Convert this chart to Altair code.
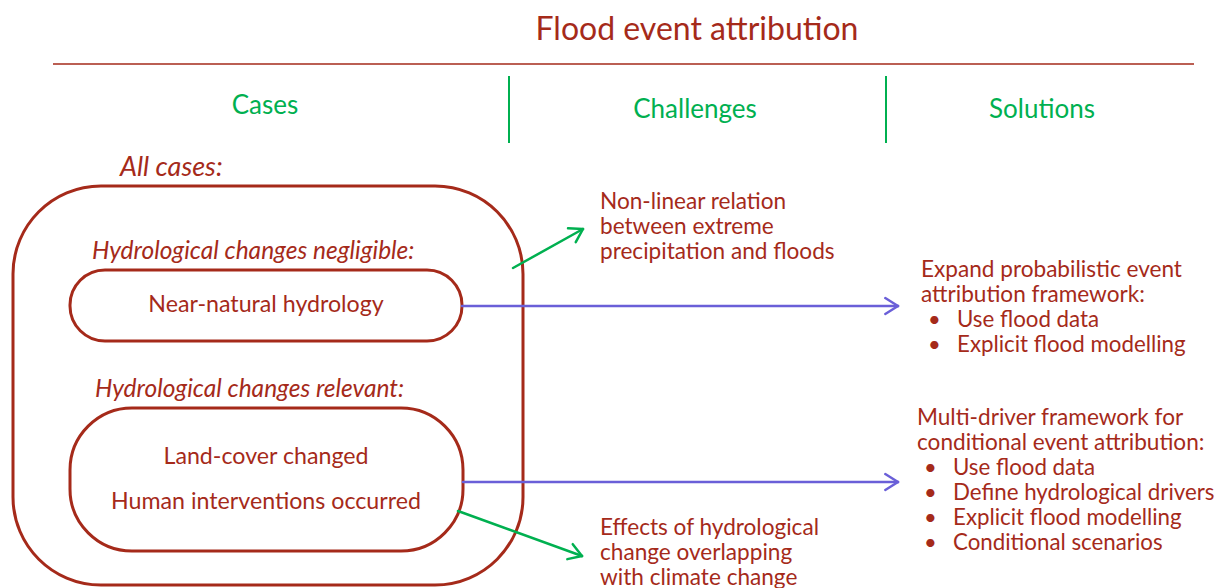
import altair as alt
import pandas as pd
import numpy as np

RED = "#A52A1A"
GREEN = "#00B050"
BLUE = "#6A5FD8"
FONT = "Lato"

# ---- text content ----
title_text = ["Flood event attribution"]
headers = ["Cases", "Challenges", "Solutions"]
header_x = [265, 695, 1042]
header_y = [106, 110, 110]

italic_labels = ["All cases:", "Hydrological changes negligible:", "Hydrological changes relevant:"]
italic_x = [120, 92, 95]
italic_y = [168, 252, 390]

box_labels = ["Near-natural hydrology", "Land-cover changed", "Human interventions occurred"]
box_label_x = [266, 266, 266]
box_label_y = [305, 457, 502]

challenge_lines = ["Non-linear relation", "between extreme", "precipitation and floods",
                   "Effects of hydrological", "change overlapping", "with climate change"]
challenge_x = [600] * 6
challenge_y = [202, 227, 252, 528, 553, 578]

solution_heads = ["Expand probabilistic event", "attribution framework:",
                  "Multi-driver framework for", "conditional event attribution:"]
solution_head_x = [921, 921, 917, 917]
solution_head_y = [270, 295, 418, 443]

bullet_items = ["Use flood data", "Explicit flood modelling",
                "Use flood data", "Define hydrological drivers",
                "Explicit flood modelling", "Conditional scenarios"]
bullet_dot_x = [928, 928, 924, 924, 924, 924]
bullet_text_x = [957, 957, 953, 953, 953, 953]
bullet_y = [320, 345, 468, 493, 518, 543]

# ---- shapes ----
boxes_x1 = [13, 70, 70]
boxes_x2 = [523, 462, 463]
boxes_y1 = [186, 270, 408]
boxes_y2 = [585, 341, 551]
boxes_r = [88, 35, 62]

rule_x1 = [53, 509, 886]
rule_x2 = [1194, 509, 886]
rule_y1 = [64, 76, 76]
rule_y2 = [64, 143, 143]
rule_col = [RED, GREEN, GREEN]
rule_w = [1.5, 2, 2]

arrow_x1 = [513, 462, 463, 458]
arrow_y1 = [268, 306, 482, 511]
arrow_x2 = [583, 898, 898, 582]
arrow_y2 = [229, 306, 482, 556]
arrow_col = [GREEN, BLUE, BLUE, GREEN]

W, H = 1209, 580
xs = alt.Scale(domain=[8, 8 + W], nice=False, zero=False)
ys = alt.Scale(domain=[8 + H, 8], nice=False, zero=False)

def X(f):
    return alt.X(f, type="quantitative", scale=xs, axis=None)

def Y(f):
    return alt.Y(f, type="quantitative", scale=ys, axis=None)

layers = []

# rounded boxes
for i in range(3):
    d = pd.DataFrame({"x": [boxes_x1[i]], "x2": [boxes_x2[i]], "y": [boxes_y1[i]], "y2": [boxes_y2[i]]})
    layers.append(alt.Chart(d).mark_rect(fillOpacity=0, stroke=RED, strokeWidth=3,
                                         cornerRadius=boxes_r[i]).encode(
        x=X("x"), x2="x2", y=Y("y"), y2="y2"))

# rules
rd = pd.DataFrame({"x": rule_x1, "x2": rule_x2, "y": rule_y1, "y2": rule_y2, "c": rule_col, "w": rule_w})
layers.append(alt.Chart(rd).mark_rule().encode(
    x=X("x"), x2="x2", y=Y("y"), y2="y2",
    color=alt.Color("c:N", scale=None),
    strokeWidth=alt.StrokeWidth("w:Q", scale=None)))

# arrows: shafts + heads
segs = []
L, ang = 15, np.radians(32)
for i in range(4):
    x1, y1, x2, y2 = arrow_x1[i], arrow_y1[i], arrow_x2[i], arrow_y2[i]
    segs.append((x1, y1, x2, y2, arrow_col[i]))
    th = np.arctan2(y2 - y1, x2 - x1)
    for s in (1, -1):
        hx = x2 - L * np.cos(th + s * ang)
        hy = y2 - L * np.sin(th + s * ang)
        segs.append((hx, hy, x2, y2, arrow_col[i]))
ad = pd.DataFrame(segs, columns=["x", "y", "x2", "y2", "c"])
layers.append(alt.Chart(ad).mark_rule(strokeWidth=2.5, strokeCap="round").encode(
    x=X("x"), x2="x2", y=Y("y"), y2="y2",
    color=alt.Color("c:N", scale=None)))

def text_layer(texts, xv, yv, size, color, align="left", italic=False):
    d = pd.DataFrame({"t": texts, "x": xv, "y": yv})
    kw = dict(font=FONT, fontSize=size, color=color, align=align, baseline="middle")
    if italic:
        kw["fontStyle"] = "italic"
    return alt.Chart(d).mark_text(**kw).encode(x=X("x"), y=Y("y"), text="t:N")

layers.append(text_layer(title_text, [697], [30], 32, RED, "center"))
layers.append(text_layer(headers, header_x, header_y, 26, GREEN, "center"))
layers.append(text_layer(italic_labels[:1], italic_x[:1], italic_y[:1], 27, RED, "left", True))
layers.append(text_layer(italic_labels[1:], italic_x[1:], italic_y[1:], 24.5, RED, "left", True))
layers.append(text_layer(box_labels, box_label_x, box_label_y, 23.2, RED, "center"))
layers.append(text_layer(challenge_lines, challenge_x, challenge_y, 22.6, RED, "left"))
layers.append(text_layer(solution_heads, solution_head_x, solution_head_y, 22.6, RED, "left"))
layers.append(text_layer(["•"] * len(bullet_items), bullet_dot_x, bullet_y, 22, RED, "left"))
layers.append(text_layer(bullet_items, bullet_text_x, bullet_y, 22.3, RED, "left"))

chart = alt.layer(*layers).properties(
    width=W, height=H, autosize=alt.AutoSizeParams(type="none"), padding=0
).configure_view(stroke=None)

chart.save("out.html", embed_options={"renderer": "svg", "actions": False})
